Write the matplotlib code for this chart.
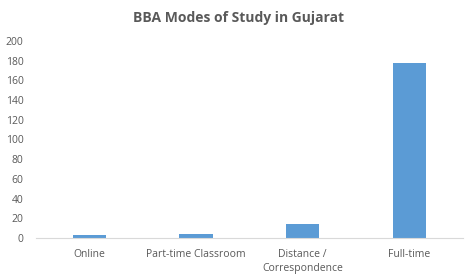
import matplotlib
matplotlib.use("Agg")
import matplotlib.pyplot as plt

# data
categories = ["Online", "Part-time Classroom", "Distance /\nCorrespondence", "Full-time"]
values = [3, 4, 14, 178]
yticks = [0, 20, 40, 60, 80, 100, 120, 140, 160, 180, 200]

plt.rcParams['font.family'] = ['Open Sans', 'DejaVu Sans']
text_col = '#595959'

fig = plt.figure(figsize=(4.67, 2.8), dpi=100)
ax = fig.add_axes([0.077, 0.15, 0.914, 0.704])

x = range(len(categories))
ax.bar(x, values, width=0.31, color='#5B9BD5')

ax.set_xlim(-0.5, len(categories) - 0.5)
ax.set_ylim(0, 200)
ax.set_yticks(yticks)
ax.set_xticks(list(x))
ax.set_xticklabels(categories, fontsize=7.5, color=text_col, linespacing=1.3)
ax.tick_params(axis='y', labelsize=7.5, colors=text_col, length=0, pad=9)
ax.tick_params(axis='x', length=0, pad=8)

for s in ['top', 'right', 'left']:
    ax.spines[s].set_visible(False)
ax.spines['bottom'].set_color('#D9D9D9')

fig.text(0.51, 0.935, "BBA Modes of Study in Gujarat", ha='center', va='center',
         fontsize=10, fontweight='bold', color=text_col)

fig.savefig("out.png", dpi=100)
